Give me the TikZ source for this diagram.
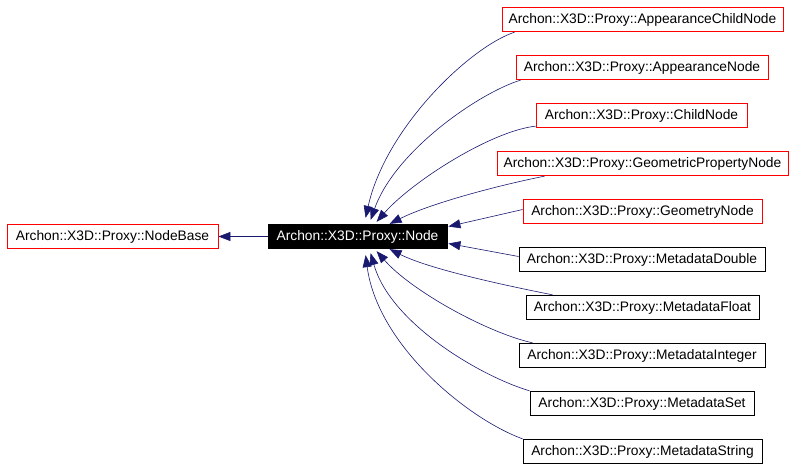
\documentclass[tikz,border=0pt]{standalone}
\usepackage{fontspec}
\setmainfont{Liberation Sans}
\usetikzlibrary{arrows.meta,calc}
\definecolor{edgeblue}{HTML}{191970}

\begin{document}
\begin{tikzpicture}[x=1pt,y=-1pt,
  cls/.style={draw,line width=0.8pt,inner sep=0pt,minimum height=24.5pt,font=\fontsize{13.8}{16}\selectfont},
  undoc/.style={cls,draw=red},
  doc/.style={cls,draw=black},
  this/.style={cls,fill=black,text=white},
  inherit/.style={draw=edgeblue,line width=0.6pt,-{Triangle[length=12pt,width=9pt]},fill=none}]
\useasboundingbox (0,0) rectangle (795,469);
%base and this class
\node[undoc,minimum width=211pt] (base) at (112.5,236.5) {Archon::X3D::Proxy::NodeBase};
\node[this,minimum width=179pt] (node) at (357.5,236.5) {Archon::X3D::Proxy::Node};
\draw[inherit] (node) -- (base);
%derived classes
\node[undoc,minimum width=281pt] (acn) at (642.5,19.5) {Archon::X3D::Proxy::AppearanceChildNode};
\node[undoc,minimum width=252pt] (an) at (642,67.5) {Archon::X3D::Proxy::AppearanceNode};
\node[undoc,minimum width=211pt] (cn) at (641.5,115.5) {Archon::X3D::Proxy::ChildNode};
\node[undoc,minimum width=291pt] (gpn) at (642.5,163.5) {Archon::X3D::Proxy::GeometricPropertyNode};
\node[undoc,minimum width=239pt] (gn) at (642.5,211.5) {Archon::X3D::Proxy::GeometryNode};
\node[doc,minimum width=246pt] (md) at (642,259.5) {Archon::X3D::Proxy::MetadataDouble};
\node[doc,minimum width=233pt] (mf) at (642.5,307.5) {Archon::X3D::Proxy::MetadataFloat};
\node[doc,minimum width=246pt] (mi) at (642,355.5) {Archon::X3D::Proxy::MetadataInteger};
\node[doc,minimum width=224pt] (ms) at (642,403.5) {Archon::X3D::Proxy::MetadataSet};
\node[doc,minimum width=239pt] (mstr) at (642.5,451.5) {Archon::X3D::Proxy::MetadataString};
%edges into Node
\draw[inherit] ($(acn.south west)+(13,0)$) .. controls +(-45,15) and +(20,-90) .. ($(node.north west)+(98,-6)$);
\draw[inherit] ($(an.south west)+(5,0)$) .. controls +(-40,12) and +(25,-70) .. ($(node.north west)+(103,-4)$);
\draw[inherit] ($(cn.south west)+(0,-2)$) .. controls +(-45,5) and +(35,-40) .. ($(node.north west)+(109,-2)$);
\draw[inherit] ($(gpn.south west)+(48,0)$) .. controls +(-50,10) and +(40,-20) .. ($(node.north west)+(122,0)$);
\draw[inherit] ($(gn.west)+(0,-2)$) -- ($(node.east)+(1,-10)$);
\draw[inherit] ($(md.west)+(0,-3)$) -- ($(node.east)+(1,7)$);
\draw[inherit] ($(mf.north west)+(27,0)$) .. controls +(-50,-10) and +(40,20) .. ($(node.south west)+(122,0)$);
\draw[inherit] ($(mi.north west)+(14,0)$) .. controls +(-45,-10) and +(35,40) .. ($(node.south west)+(109,2)$);
\draw[inherit] (ms.north west) .. controls +(-50,-15) and +(20,70) .. ($(node.south west)+(103,4)$);
\draw[inherit] (mstr.north west) .. controls +(-55,-20) and +(12,90) .. ($(node.south west)+(98,6)$);
\end{tikzpicture}
\end{document}
